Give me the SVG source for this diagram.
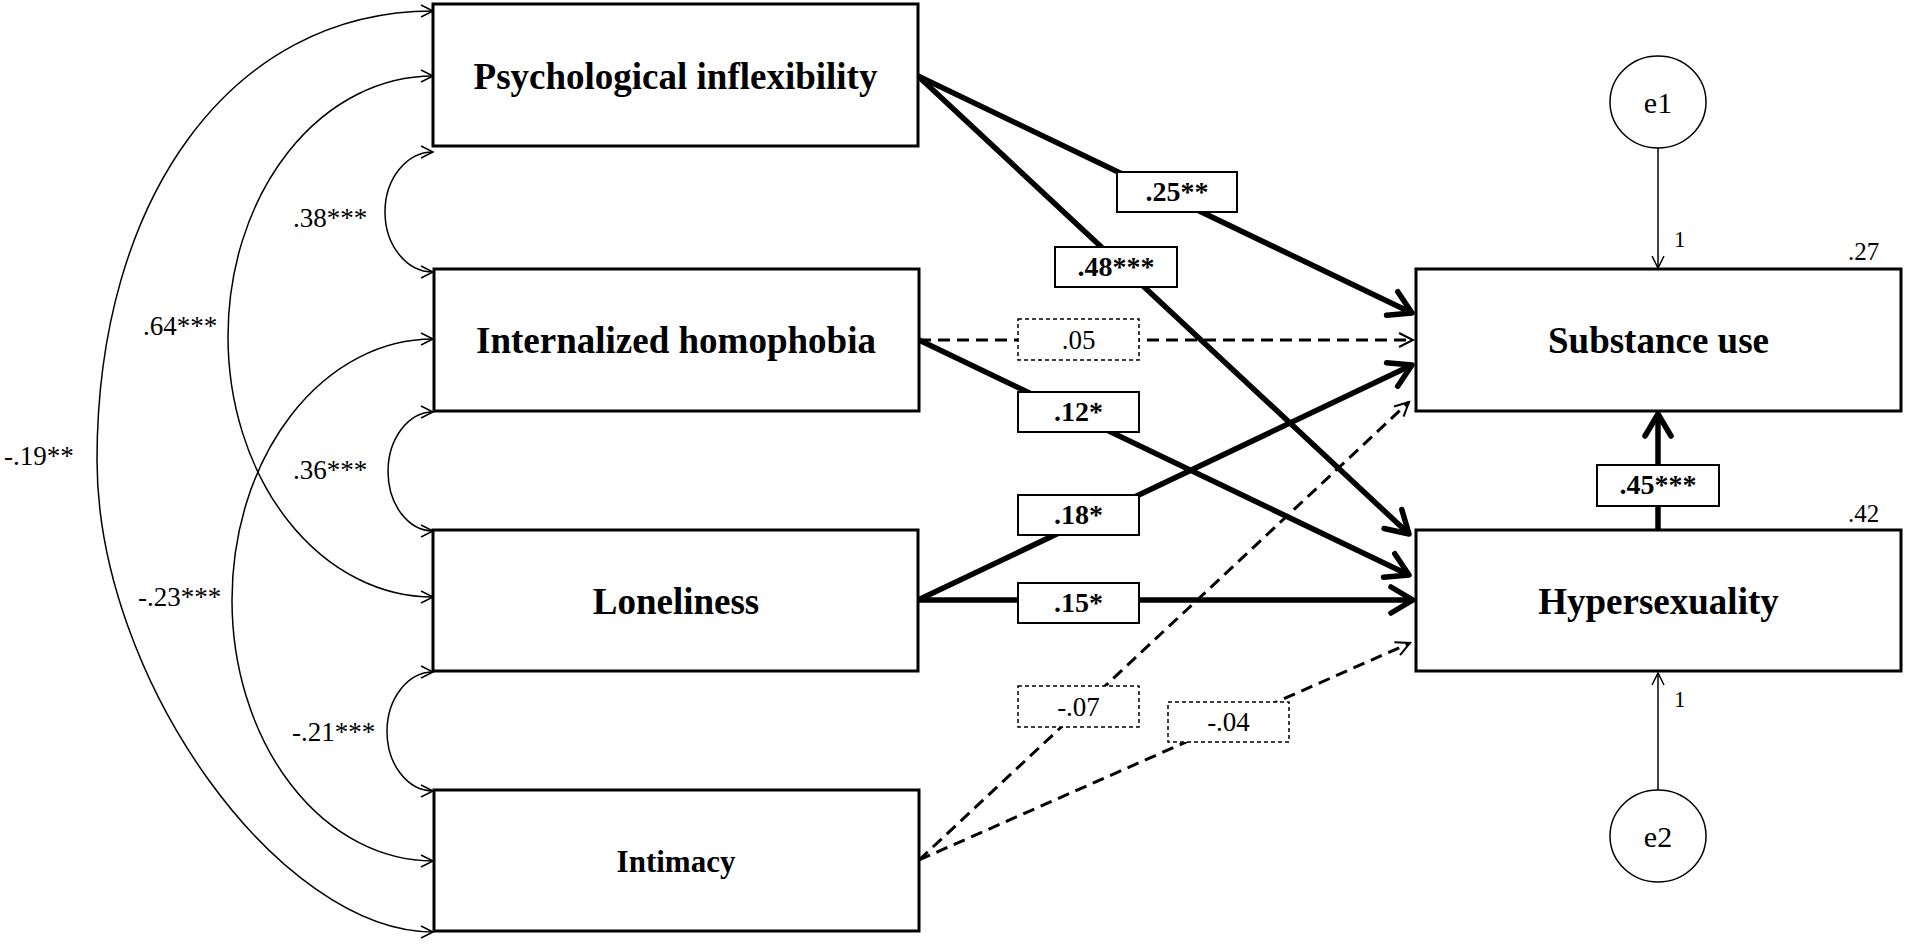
<svg xmlns="http://www.w3.org/2000/svg" width="1908" height="944" viewBox="0 0 1908 944">
<style>
.box{fill:#fff;stroke:#000;stroke-width:3}
.lbl{fill:#fff;stroke:#000;stroke-width:2}
.dlbl{fill:#fff;stroke:#000;stroke-width:1.5;stroke-dasharray:4 3}
.node{font-family:"Liberation Serif","Times New Roman",serif;font-weight:bold;font-size:37px;text-anchor:middle;fill:#000}
.pl{font-family:"Liberation Serif","Times New Roman",serif;font-weight:bold;font-size:28px;text-anchor:middle;fill:#000}
.dl{font-family:"Liberation Serif","Times New Roman",serif;font-size:27px;text-anchor:middle;fill:#000}
.el{font-family:"Liberation Serif","Times New Roman",serif;font-size:30px;text-anchor:middle;fill:#000}
.cv{font-family:"Liberation Serif","Times New Roman",serif;font-size:27px;fill:#000}
.sm{font-family:"Liberation Serif","Times New Roman",serif;font-size:23px;fill:#000}
.r2{font-family:"Liberation Serif","Times New Roman",serif;font-size:25px;fill:#000}
.thick{fill:none;stroke:#000;stroke-width:5.5;marker-end:url(#ah)}
.dash{fill:none;stroke:#000;stroke-width:3;stroke-dasharray:12 7;marker-end:url(#ad)}
.thin{fill:none;stroke:#000;stroke-width:1.5;marker-end:url(#at)}
.cov{fill:none;stroke:#000;stroke-width:1.5;marker-start:url(#at);marker-end:url(#at)}
</style>
<defs>
<marker id="ah" markerUnits="userSpaceOnUse" viewBox="-30 -20 36 40" markerWidth="36" markerHeight="40" refX="0" refY="0" orient="auto">
<path d="M-22,-13 L0,0 L-22,13" fill="none" stroke="#000" stroke-width="5.5" stroke-linejoin="round" stroke-linecap="round"/>
</marker>
<marker id="ad" markerUnits="userSpaceOnUse" viewBox="-20 -12 24 24" markerWidth="24" markerHeight="24" refX="0" refY="0" orient="auto">
<path d="M-14,-7 L0,0 L-14,7" fill="none" stroke="#000" stroke-width="2"/>
</marker>
<marker id="at" markerUnits="userSpaceOnUse" viewBox="-16 -10 20 20" markerWidth="20" markerHeight="20" refX="0" refY="0" orient="auto-start-reverse">
<path d="M-12,-6 L0,0 L-12,6" fill="none" stroke="#000" stroke-width="1.5"/>
</marker>
</defs>
<rect width="1908" height="944" fill="#fff"/>

<g id="connectors">
<path class="cov" d="M433,11 C230,11 97,200 97,460 C97,680 280,932 433,932"/>
<path class="cov" d="M433,76 A205,260.5 0 0 0 433,597"/>
<path class="cov" d="M433,339 A201,261 0 0 0 433,861"/>
<path class="cov" d="M433,152 A48,60 0 0 0 433,272"/>
<path class="cov" d="M433,412 A45,59.5 0 0 0 433,531"/>
<path class="cov" d="M433,672 A46,59.5 0 0 0 433,791"/>
<path class="thick" d="M918,76 L1412,313"/>
<path class="thick" d="M918,76 L1409,534"/>
<path class="dash" d="M919,340 L1413,340"/>
<path class="thick" d="M919,340 L1409,575"/>
<path class="thick" d="M918,600 L1412,365"/>
<path class="thick" d="M918,600 L1413,600"/>
<path class="dash" d="M919,860 L1409,402"/>
<path class="dash" d="M919,860 L1410,643"/>
<path class="thick" d="M1658,530 L1658,414"/>
<path class="thin" d="M1658,148 L1658,268"/>
<path class="thin" d="M1658,791 L1658,673"/>
<g id="lbl-25"><rect class="lbl" x="1117" y="172" width="120" height="40"/><text class="pl" x="1177" y="201">.25**</text></g>
<g id="lbl-48"><rect class="lbl" x="1055" y="247" width="122" height="40"/><text class="pl" x="1116" y="276">.48***</text></g>
<g id="lbl-05"><rect class="dlbl" x="1018" y="319" width="121" height="41"/><text class="dl" x="1078.5" y="349">.05</text></g>
<g id="lbl-12"><rect class="lbl" x="1018" y="392" width="121" height="40"/><text class="pl" x="1078.5" y="421">.12*</text></g>
<g id="lbl-18"><rect class="lbl" x="1018" y="495" width="121" height="40"/><text class="pl" x="1078.5" y="524">.18*</text></g>
<g id="lbl-15"><rect class="lbl" x="1018" y="583" width="121" height="40"/><text class="pl" x="1078.5" y="612">.15*</text></g>
<g id="lbl-07"><rect class="dlbl" x="1018" y="686" width="121" height="41"/><text class="dl" x="1078.5" y="716">-.07</text></g>
<g id="lbl-04"><rect class="dlbl" x="1168" y="702" width="121" height="40"/><text class="dl" x="1228.5" y="731">-.04</text></g>
<g id="lbl-45"><rect class="lbl" x="1597" y="465" width="122" height="41"/><text class="pl" x="1658" y="494">.45***</text></g>
<text class="cv" x="4" y="465">-.19**</text>
<text class="cv" x="143" y="335">.64***</text>
<text class="cv" x="293" y="227">.38***</text>
<text class="cv" x="293" y="479">.36***</text>
<text class="cv" x="138" y="606">-.23***</text>
<text class="cv" x="292" y="741">-.21***</text>
<text class="sm" x="1674" y="247">1</text>
<text class="sm" x="1674" y="707">1</text>
</g>

<g id="psych"><rect class="box" x="433" y="4" width="485" height="142"/><text class="node" x="675.5" y="89">Psychological inflexibility</text></g>
<g id="homophobia"><rect class="box" x="434" y="269" width="485" height="142"/><text class="node" x="676" y="353">Internalized homophobia</text></g>
<g id="loneliness"><rect class="box" x="433" y="530" width="485" height="141"/><text class="node" x="676" y="614">Loneliness</text></g>
<g id="intimacy"><rect class="box" x="434" y="790" width="485" height="141"/><text class="node" x="676" y="872" style="font-size:31px">Intimacy</text></g>
<g id="substance"><rect class="box" x="1416" y="269" width="485" height="142"/><text class="node" x="1658.5" y="353">Substance use</text><text class="r2" x="1848" y="260">.27</text></g>
<g id="hypersexuality"><rect class="box" x="1416" y="530" width="485" height="141"/><text class="node" x="1658.5" y="614">Hypersexuality</text><text class="r2" x="1848" y="522">.42</text></g>
<g id="e1"><ellipse cx="1658" cy="102" rx="48" ry="46" fill="#fff" stroke="#000" stroke-width="1.5"/><text class="el" x="1658" y="113">e1</text></g>
<g id="e2"><ellipse cx="1658" cy="836" rx="48" ry="46" fill="#fff" stroke="#000" stroke-width="1.5"/><text class="el" x="1658" y="847">e2</text></g>
</svg>
